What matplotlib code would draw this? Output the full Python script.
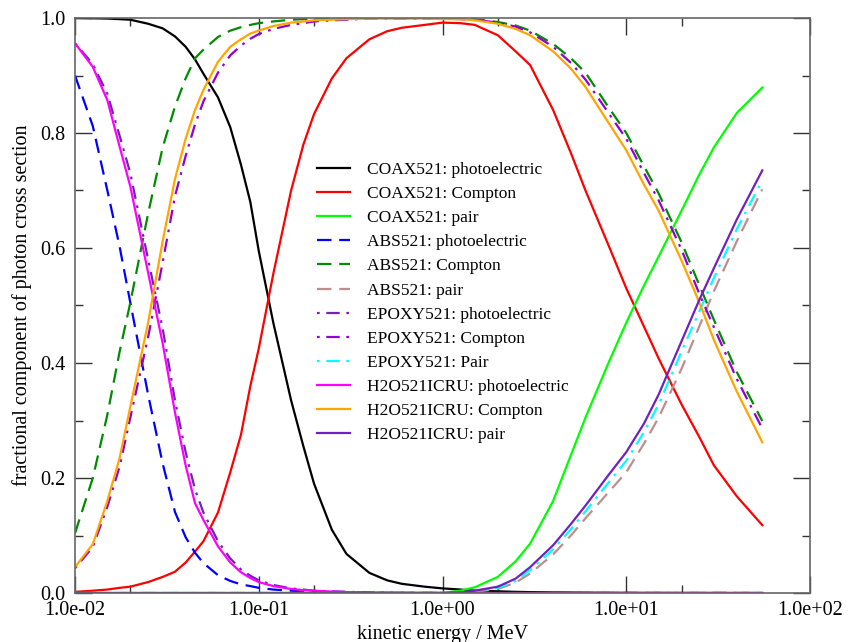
import matplotlib
matplotlib.use("Agg")
import matplotlib.pyplot as plt
from matplotlib.ticker import LogLocator, MultipleLocator, FuncFormatter, NullFormatter

plt.rcParams["font.family"] = ["Liberation Serif", "DejaVu Serif"]

# photon energy grid (MeV)
energy = [0.01, 0.0125, 0.015, 0.0175, 0.02, 0.025, 0.03, 0.035, 0.04, 0.045,
          0.05, 0.06, 0.07, 0.08, 0.09, 0.1, 0.12, 0.15, 0.175, 0.2,
          0.25, 0.3, 0.4, 0.5, 0.6, 0.8, 1.0, 1.25, 1.5, 2,
          2.5, 3, 4, 5, 6, 8, 10, 12.5, 15, 20,
          25, 30, 40, 55]

# COAX521
coax_pe = [1.0, 0.9995, 0.999, 0.998, 0.997, 0.99, 0.982, 0.968, 0.95, 0.928,
           0.903, 0.862, 0.81, 0.745, 0.68, 0.595, 0.47, 0.335, 0.255, 0.19,
           0.11, 0.068, 0.035, 0.022, 0.016, 0.011, 0.008, 0.006, 0.004, 0.003,
           0.002, 0.0015, 0.001, 0.0008, 0.0006, 0.0004, 0.0003, 0.0002, 0.0002, 0.0001,
           0.0001, 0.0001, 0.0, 0.0]
coax_compton = [0.002, 0.004, 0.006, 0.009, 0.011, 0.019, 0.028, 0.037, 0.053, 0.072,
                0.09, 0.14, 0.21, 0.275, 0.36, 0.425, 0.555, 0.70, 0.78, 0.833,
                0.895, 0.93, 0.963, 0.977, 0.983, 0.988, 0.992, 0.991, 0.988, 0.97,
                0.942, 0.918, 0.84, 0.765, 0.70, 0.605, 0.53, 0.463, 0.408, 0.328,
                0.271, 0.222, 0.168, 0.118]
coax_pair = [0, 0, 0, 0, 0, 0, 0, 0, 0, 0,
             0, 0, 0, 0, 0, 0, 0, 0, 0, 0,
             0, 0, 0, 0, 0, 0, 0, 0.004, 0.01, 0.028,
             0.055, 0.086, 0.16, 0.24, 0.305, 0.40, 0.47, 0.535, 0.585, 0.665,
             0.728, 0.775, 0.835, 0.879]

# ABS521
abs_pe = [0.90, 0.812, 0.70, 0.602, 0.505, 0.345, 0.225, 0.141, 0.097, 0.07,
          0.052, 0.031, 0.021, 0.015, 0.012, 0.009, 0.006, 0.004, 0.003, 0.002,
          0.0015, 0.001, 0.0005, 0.0003, 0.0002, 0.0001, 0, 0, 0, 0,
          0, 0, 0, 0, 0, 0, 0, 0, 0, 0,
          0, 0, 0, 0]
abs_compton = [0.104, 0.20, 0.31, 0.42, 0.505, 0.66, 0.775, 0.846, 0.895, 0.93,
               0.945, 0.967, 0.978, 0.984, 0.988, 0.991, 0.994, 0.997, 0.998, 0.999,
               1.0, 1.0, 1.0, 1.0, 1.0, 1.0, 1.0, 0.999, 0.998, 0.993,
               0.987, 0.978, 0.955, 0.93, 0.905, 0.845, 0.80, 0.742, 0.695, 0.61,
               0.535, 0.475, 0.384, 0.299]
abs_pair = [0, 0, 0, 0, 0, 0, 0, 0, 0, 0,
            0, 0, 0, 0, 0, 0, 0, 0, 0, 0,
            0, 0, 0, 0, 0, 0, 0, 0.001, 0.002, 0.007,
            0.018, 0.034, 0.067, 0.1, 0.13, 0.175, 0.21, 0.26, 0.305, 0.39,
            0.464, 0.525, 0.612, 0.702]

# EPOXY521
epoxy_pe = [0.956, 0.92, 0.868, 0.795, 0.73, 0.58, 0.46, 0.335, 0.245, 0.18,
            0.14, 0.09, 0.06, 0.041, 0.03, 0.022, 0.014, 0.008, 0.006, 0.004,
            0.003, 0.002, 0.001, 0.0005, 0.0003, 0.0002, 0.0001, 0, 0, 0,
            0, 0, 0, 0, 0, 0, 0, 0, 0, 0,
            0, 0, 0, 0]
epoxy_compton = [0.043, 0.08, 0.15, 0.22, 0.305, 0.445, 0.575, 0.69, 0.76, 0.815,
                 0.855, 0.905, 0.935, 0.952, 0.964, 0.972, 0.981, 0.988, 0.991, 0.994,
                 0.996, 0.997, 0.999, 0.999, 0.999, 0.999, 0.999, 0.998, 0.997, 0.992,
                 0.985, 0.975, 0.95, 0.922, 0.893, 0.835, 0.79, 0.73, 0.683, 0.597,
                 0.52, 0.462, 0.372, 0.286]
epoxy_pair = [0, 0, 0, 0, 0, 0, 0, 0, 0, 0,
              0, 0, 0, 0, 0, 0, 0, 0, 0, 0,
              0, 0, 0, 0, 0, 0, 0, 0.001, 0.003, 0.009,
              0.021, 0.04, 0.076, 0.111, 0.142, 0.192, 0.23, 0.28, 0.328, 0.42,
              0.49, 0.548, 0.633, 0.718]

# H2O521ICRU
h2o_pe = [0.956, 0.915, 0.857, 0.776, 0.707, 0.557, 0.434, 0.314, 0.222, 0.156,
          0.127, 0.081, 0.053, 0.036, 0.026, 0.019, 0.012, 0.007, 0.005, 0.004,
          0.0025, 0.0015, 0.001, 0.0005, 0.0003, 0.0002, 0.0001, 0, 0, 0,
          0, 0, 0, 0, 0, 0, 0, 0, 0, 0,
          0, 0, 0, 0]
h2o_compton = [0.045, 0.085, 0.16, 0.235, 0.324, 0.47, 0.612, 0.72, 0.79, 0.84,
               0.875, 0.924, 0.95, 0.963, 0.973, 0.978, 0.986, 0.992, 0.994, 0.996,
               0.997, 0.998, 0.999, 0.999, 0.999, 0.999, 0.998, 0.998, 0.996, 0.99,
               0.981, 0.97, 0.942, 0.912, 0.88, 0.818, 0.77, 0.71, 0.665, 0.578,
               0.505, 0.44, 0.35, 0.262]
h2o_pair = [0, 0, 0, 0, 0, 0, 0, 0, 0, 0,
            0, 0, 0, 0, 0, 0, 0, 0, 0, 0,
            0, 0, 0, 0, 0, 0, 0, 0.001, 0.004, 0.011,
            0.025, 0.045, 0.083, 0.12, 0.152, 0.205, 0.245, 0.295, 0.345, 0.438,
            0.51, 0.565, 0.65, 0.735]

DASH = (0, (6.5, 3.5))
DASHDOT = (0, (1.2, 3, 6, 3))

series = [
    ("COAX521: photoelectric", coax_pe, "black", "-"),
    ("COAX521: Compton", coax_compton, "#ff0000", "-"),
    ("COAX521: pair", coax_pair, "#00ff00", "-"),
    ("ABS521: photoelectric", abs_pe, "#0000ff", DASH),
    ("ABS521: Compton", abs_compton, "#008b00", DASH),
    ("ABS521: pair", abs_pair, "#bc8f8f", DASH),
    ("EPOXY521: photoelectric", epoxy_pe, "#7221bc", DASHDOT),
    ("EPOXY521: Compton", epoxy_compton, "#9400d3", DASHDOT),
    ("EPOXY521: Pair", epoxy_pair, "#00ffff", DASHDOT),
    ("H2O521ICRU: photoelectric", h2o_pe, "#ff00ff", "-"),
    ("H2O521ICRU: Compton", h2o_compton, "#ffa500", "-"),
    ("H2O521ICRU: pair", h2o_pair, "#7221bc", "-"),
]

fig = plt.figure(figsize=(8.49, 6.42), dpi=100)
ax = fig.add_axes([75 / 849, 1 - 593 / 642, 735 / 849, 575 / 642])

for label, vals, color, ls in series:
    ax.plot(energy, vals, color=color, linestyle=ls, linewidth=1.6, label=label)

ax.set_xscale("log")
ax.set_xlim(1e-2, 1e2)
ax.set_ylim(0, 1)

ax.xaxis.set_major_locator(LogLocator(base=10, numticks=10))
ax.xaxis.set_minor_locator(LogLocator(base=10, subs=[2.0], numticks=10))
ax.xaxis.set_major_formatter(FuncFormatter(lambda v, p: f"{v:.1e}"))
ax.xaxis.set_minor_formatter(NullFormatter())
ax.yaxis.set_major_locator(MultipleLocator(0.2))
ax.yaxis.set_minor_locator(MultipleLocator(0.1))
ax.yaxis.set_major_formatter(FuncFormatter(lambda v, p: f"{v:.1f}"))

ax.tick_params(which="both", direction="in", top=True, right=True,
               color="#333333", width=1.0, labelsize=14.5)
ax.tick_params(which="major", length=12)
ax.tick_params(which="minor", length=6)
ax.tick_params(axis="x", pad=6)
ax.tick_params(axis="y", pad=7)
for sp in ax.spines.values():
    sp.set_color("#666666")
    sp.set_linewidth(1.2)

ax.set_xlabel("kinetic energy / MeV", fontsize=14.5, labelpad=3)
ax.set_ylabel("fractional component of photon cross section", fontsize=14.5, labelpad=6)

ax.legend(loc="upper left", bbox_to_anchor=(0.329, 0.750), frameon=False,
          fontsize=12.5, handlelength=1.9, handletextpad=1.0, labelspacing=0.46,
          borderpad=0, borderaxespad=0)

fig.savefig("out.png", dpi=100)
